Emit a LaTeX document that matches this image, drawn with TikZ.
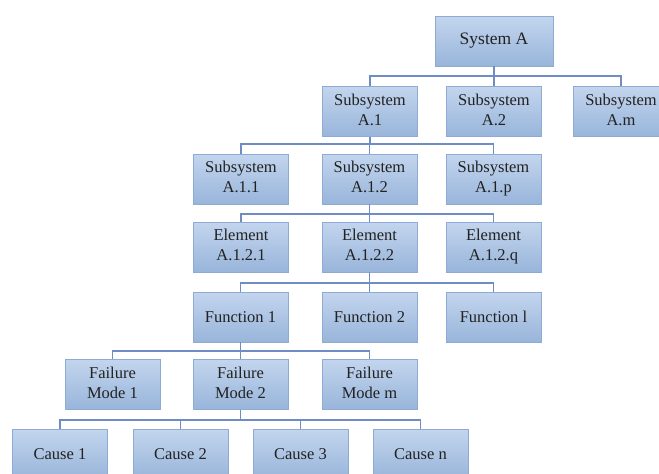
\documentclass[tikz,border=0pt]{standalone}
\usepackage{fontspec}
\setmainfont{Liberation Serif}
\definecolor{boxtop}{HTML}{C3D5EE}
\definecolor{boxbot}{HTML}{98B5DA}
\definecolor{boxline}{HTML}{8FAAD3}
\definecolor{wire}{HTML}{6F8DC4}
\definecolor{txt}{HTML}{222222}
\begin{document}
\begin{tikzpicture}[x=1pt,y=-1pt,
  box/.style={rectangle, draw=boxline, line width=0.8pt, top color=boxtop, bottom color=boxbot,
    minimum width=95pt, minimum height=50pt, inner sep=0pt, align=center,
    font=\fontsize{16.5}{20}\selectfont, text=txt},
  two/.style={box, execute at end node=\vphantom{p}},
  wirestyle/.style={draw=wire, line width=1.1pt}]
\useasboundingbox (0,0) rectangle (659,474);
\begin{scope}
\clip (0,0) rectangle (659,474);
% level 1
\node[box, minimum width=118pt, font=\fontsize{17.5}{20}\selectfont] (sys) at (494,41) {System A};
% level 2
\node[two] (a1) at (370,111.5) {Subsystem\\A.1};
\node[two] (a2) at (494,111.5) {Subsystem\\A.2};
\node[two] (am) at (621,111.5) {Subsystem\\A.m};
% level 3
\node[two] (a11) at (241,179) {Subsystem\\A.1.1};
\node[two] (a12) at (369.5,179) {Subsystem\\A.1.2};
\node[two] (a1p) at (493.5,179) {Subsystem\\A.1.p};
% level 4
\node[two] (e1) at (241,247) {Element\\A.1.2.1};
\node[two] (e2) at (369.5,247) {Element\\A.1.2.2};
\node[two] (eq) at (493.5,247) {Element\\A.1.2.q};
% level 5
\node[box] (f1) at (240.5,317) {Function 1};
\node[box] (f2) at (369.5,317) {Function 2};
\node[box] (fl) at (493.5,317) {Function l};
% level 6
\node[two] (m1) at (112.5,384.5) {Failure\\Mode 1};
\node[two] (m2) at (240.5,384.5) {Failure\\Mode 2};
\node[two] (mm) at (369.5,384.5) {Failure\\Mode m};
% level 7
\node[box] (c1) at (60,454) {Cause 1};
\node[box] (c2) at (180.5,454) {Cause 2};
\node[box] (c3) at (300.5,454) {Cause 3};
\node[box] (cn) at (420.5,454) {Cause n};
% connectors
\foreach \p/\c/\y in {sys/a1/76, sys/a2/76, sys/am/76,
  a1/a11/144, a1/a12/144, a1/a1p/144,
  a12/e1/214, a12/e2/214, a12/eq/214,
  e2/f1/283, e2/f2/283, e2/fl/283,
  f1/m1/351, f1/m2/351, f1/mm/351,
  m2/c1/420, m2/c2/420, m2/c3/420, m2/cn/420}
  \draw[wirestyle] (\p.south) |- (\c.north |- 0,\y) -- (\c.north);
\end{scope}
\end{tikzpicture}
\end{document}
